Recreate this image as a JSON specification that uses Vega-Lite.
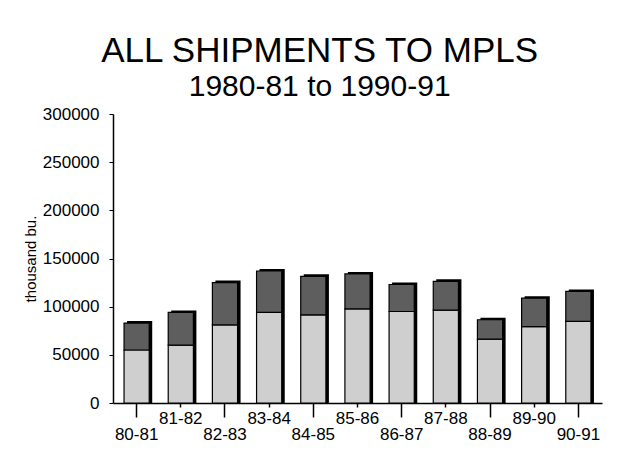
{
  "$schema": "https://vega.github.io/schema/vega-lite/v6.json",
  "width": 489,
  "height": 289,
  "padding": {"left": 23, "top": 34, "right": 5, "bottom": 5},
  "background": "white",
  "title": {
    "text": "ALL SHIPMENTS TO MPLS",
    "subtitle": "1980-81 to 1990-91",
    "anchor": "middle",
    "frame": "bounds",
    "dx": 7,
    "font": "Liberation Sans",
    "fontSize": 35,
    "fontWeight": "normal",
    "color": "black",
    "subtitleFont": "Liberation Sans",
    "subtitleFontSize": 30,
    "subtitleColor": "black",
    "subtitlePadding": 3,
    "offset": 3
  },
  "data": {
    "values": [
      {"period": "80-81", "part": "lower", "order": 1, "value": 55000},
      {"period": "80-81", "part": "upper", "order": 2, "value": 28000},
      {"period": "81-82", "part": "lower", "order": 1, "value": 60000},
      {"period": "81-82", "part": "upper", "order": 2, "value": 34000},
      {"period": "82-83", "part": "lower", "order": 1, "value": 81000},
      {"period": "82-83", "part": "upper", "order": 2, "value": 44000},
      {"period": "83-84", "part": "lower", "order": 1, "value": 94000},
      {"period": "83-84", "part": "upper", "order": 2, "value": 43000},
      {"period": "84-85", "part": "lower", "order": 1, "value": 91500},
      {"period": "84-85", "part": "upper", "order": 2, "value": 40000},
      {"period": "85-86", "part": "lower", "order": 1, "value": 97700},
      {"period": "85-86", "part": "upper", "order": 2, "value": 36300},
      {"period": "86-87", "part": "lower", "order": 1, "value": 95000},
      {"period": "86-87", "part": "upper", "order": 2, "value": 28000},
      {"period": "87-88", "part": "lower", "order": 1, "value": 96500},
      {"period": "87-88", "part": "upper", "order": 2, "value": 29800},
      {"period": "88-89", "part": "lower", "order": 1, "value": 66400},
      {"period": "88-89", "part": "upper", "order": 2, "value": 20000},
      {"period": "89-90", "part": "lower", "order": 1, "value": 79300},
      {"period": "89-90", "part": "upper", "order": 2, "value": 29500},
      {"period": "90-91", "part": "lower", "order": 1, "value": 84700},
      {"period": "90-91", "part": "upper", "order": 2, "value": 31100}
    ]
  },
  "encoding": {
    "x": {
      "field": "period",
      "type": "nominal",
      "sort": null,
      "scale": {"paddingInner": 0.43, "paddingOuter": 0.25},
      "axis": {
        "title": null,
        "labelAngle": 0,
        "labelFont": "Liberation Sans",
        "labelFontSize": 17,
        "labelColor": "black",
        "domainColor": "black",
        "domainWidth": 1.5,
        "tickColor": "black",
        "tickWidth": 1.5,
        "tickSize": {"condition": {"test": "indexof(['80-81','82-83','84-85','86-87','88-89','90-91'], datum.value) >= 0", "value": 14}, "value": 4},
        "labelPadding": {"condition": {"test": "indexof(['80-81','82-83','84-85','86-87','88-89','90-91'], datum.value) >= 0", "value": 9}, "value": 3}
      }
    },
    "y": {
      "field": "value",
      "type": "quantitative",
      "aggregate": "sum",
      "stack": "zero",
      "scale": {"domain": [0, 300000], "nice": false},
      "axis": {
        "title": "thousand bu.",
        "titleFont": "Liberation Sans",
        "titleFontSize": 15,
        "titleFontWeight": "normal",
        "titleColor": "black",
        "titlePadding": 4,
        "values": [0, 50000, 100000, 150000, 200000, 250000, 300000],
        "format": "d",
        "grid": false,
        "labelFont": "Liberation Sans",
        "labelFontSize": 17,
        "labelColor": "black",
        "labelPadding": 10,
        "domainColor": "black",
        "domainWidth": 1.5,
        "tickColor": "black",
        "tickWidth": 1,
        "tickSize": 4
      }
    }
  },
  "layer": [
    {
      "mark": {"type": "bar", "color": "black", "xOffset": 3, "yOffset": -2},
      "encoding": {
        "y": {"field": "value", "type": "quantitative", "aggregate": "sum"}
      }
    },
    {
      "mark": {"type": "bar", "stroke": "black", "strokeWidth": 1.2},
      "encoding": {
        "color": {
          "field": "part",
          "type": "nominal",
          "scale": {"domain": ["lower", "upper"], "range": ["#cfcfcf", "#5e5e5e"]},
          "legend": null
        },
        "order": {"field": "order", "type": "quantitative"}
      }
    }
  ],
  "config": {"view": {"stroke": null}}
}
